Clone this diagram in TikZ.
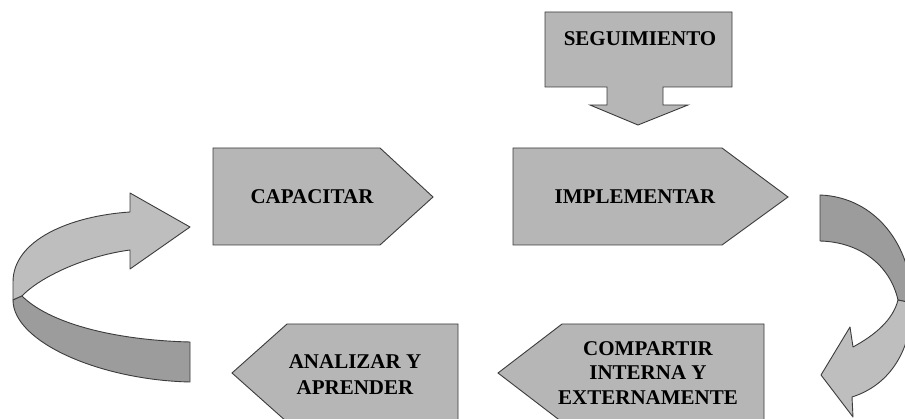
\documentclass[tikz,border=0pt]{standalone}
\usepackage{fontspec}
\setmainfont{Liberation Serif}
\begin{document}
\begin{tikzpicture}[x=1pt,y=-1pt,
  boxshape/.style={fill=boxgray,draw=edgegray,line width=0.9pt,line join=miter},
  ribbonlight/.style={fill=lightband,draw=edgegray,line width=0.9pt,line join=round},
  ribbondark/.style={fill=darkband,draw=edgegray,line width=0.9pt,line join=round},
  label/.style={font=\bfseries\fontsize{21}{25}\selectfont,text=black,align=center,inner sep=0pt}]
\definecolor{boxgray}{RGB}{182,182,182}
\definecolor{lightband}{RGB}{190,190,190}
\definecolor{darkband}{RGB}{156,156,156}
\definecolor{edgegray}{RGB}{60,60,60}

% page frame
\useasboundingbox (0,0) rectangle (905,419);
\fill[white] (0,0) rectangle (905,419);
\clip (0,0) rectangle (905,419);

% SEGUIMIENTO: box with a downward arrow
\path[boxshape] (545,12) -- (732,12) -- (732,87) -- (663,87) -- (663,105)
  -- (688,105) -- (638,125) -- (590,105) -- (607,105) -- (607,87)
  -- (545,87) -- cycle;
\node[label] (seg) at (640,39) {SEGUIMIENTO};

% CAPACITAR
\path[boxshape] (213,148) -- (380,148) -- (433,197) -- (380,245) -- (213,245) -- cycle;
\node[label] (cap) at (312,197) {CAPACITAR};

% IMPLEMENTAR
\path[boxshape] (513,148) -- (722,148) -- (788,197) -- (722,245) -- (513,245) -- cycle;
\node[label] (imp) at (635,197) {IMPLEMENTAR};

% COMPARTIR (pointing left)
\path[boxshape] (764,324) -- (562,324) -- (498,373) -- (562,422) -- (764,422) -- cycle;
\node[label,font=\bfseries\fontsize{21}{24.5}\selectfont] (com) at (648,373)
  {COMPARTIR\\INTERNA Y\\EXTERNAMENTE};

% ANALIZAR Y APRENDER (pointing left)
\path[boxshape] (458,324) -- (287,324) -- (232,373) -- (287,422) -- (458,422) -- cycle;
\node[label,font=\bfseries\fontsize{21}{26}\selectfont] (ana) at (355,375)
  {ANALIZAR Y\\APRENDER};

% right ribbon arrow: dark upper band, light lower band with head
\path[ribbondark] (820,195) .. controls (875,197) and (912,245) .. (912,303)
  -- (898,300) .. controls (890,265) and (860,242) .. (820,241) -- cycle;
\path[ribbonlight] (898,300) -- (912,303) .. controls (912,350) and (890,385) .. (852,397)
  -- (853,417) -- (821,375) -- (850,327) -- (853,347)
  .. controls (875,335) and (893,320) .. (898,300) -- cycle;

% left ribbon arrow: light upper band with head, dark lower band
\path[ribbonlight] (130,212) .. controls (70,216) and (13,240) .. (13,282)
  -- (13,300) -- (22,296) .. controls (40,277) and (85,256) .. (130,250)
  -- (130,269) -- (190,227) -- (130,193) -- cycle;
\path[ribbondark] (13,300) .. controls (13,342) and (100,380) .. (190,382)
  -- (190,342) .. controls (110,340) and (48,322) .. (22,296) -- cycle;
\end{tikzpicture}
\end{document}
